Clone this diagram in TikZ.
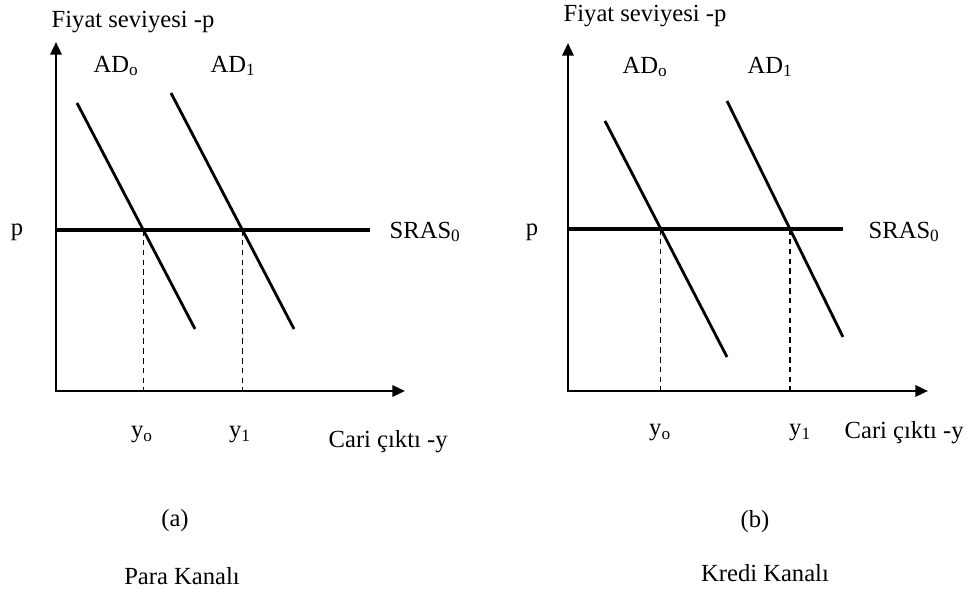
\documentclass[tikz,border=0pt]{standalone}
\usepackage{fontspec}
\setmainfont{Liberation Serif}
\usetikzlibrary{arrows.meta,intersections}

\begin{document}
\begin{tikzpicture}[
  every node/.style={font=\fontsize{17.5}{20}\selectfont, inner sep=1pt},
  axis/.style={line width=1.8pt, {Triangle[length=9pt,width=8pt]}-{Triangle[length=9pt,width=8pt]}},
  adline/.style={line width=2pt},
  srasline/.style={line width=2.7pt},
  guide/.style={line width=0.9pt, dash pattern=on 4pt off 3pt}]
  \useasboundingbox (0,0) rectangle (24.475,14.85);

  % (a) Para Kanali
  \coordinate (Oa) at (1.40,5.075);
  \coordinate (pa) at (1.40,13.80);
  \coordinate (qa) at (10.125,5.075);
  \draw[axis] (pa) -- (Oa) -- (qa);
  \draw[srasline, name path=srasa] (1.40,9.10) -- (9.25,9.10);
  \draw[adline, name path=ad0a] (1.925,12.275) -- (4.875,6.625);
  \draw[adline, name path=ad1a] (4.275,12.525) -- (7.35,6.625);
  \path[name intersections={of=srasa and ad0a, by=e0a}];
  \path[name intersections={of=srasa and ad1a, by=e1a}];
  \draw[guide] (e0a) -- (e0a |- Oa);
  \draw[guide] (e1a) -- (e1a |- Oa);
  \node[anchor=west] (fiyata) at (1.25,14.3) {Fiyat seviyesi -p};
  \node (ad0la) at (2.9,13.2) {AD\textsubscript{o}};
  \node (ad1la) at (5.825,13.2) {AD\textsubscript{1}};
  \node (pla) at (0.425,9.05) {p};
  \node[anchor=west] (srasla) at (9.7,9.05) {SRAS\textsubscript{0}};
  \node (y0a) at (3.55,3.975) {y\textsubscript{o}};
  \node (y1a) at (6.0,3.975) {y\textsubscript{1}};
  \node[anchor=west] (caria) at (8.175,3.8) {Cari çıktı -y};
  \node (capa) at (4.375,1.825) {(a)};
  \node (kanala) at (4.55,0.45) {Para Kanalı};

  % (b) Kredi Kanali
  \coordinate (Ob) at (14.2,5.075);
  \coordinate (pb) at (14.2,13.775);
  \coordinate (qb) at (23.2,5.075);
  \draw[axis] (pb) -- (Ob) -- (qb);
  \draw[srasline, name path=srasb] (14.2,9.125) -- (21.075,9.125);
  \draw[adline, name path=ad0b] (15.125,11.825) -- (18.175,5.925);
  \draw[adline, name path=ad1b] (18.175,12.325) -- (21.075,6.425);
  \path[name intersections={of=srasb and ad0b, by=e0b}];
  \path[name intersections={of=srasb and ad1b, by=e1b}];
  \draw[guide] (e0b) -- (e0b |- Ob);
  \draw[guide] (e1b) -- (e1b |- Ob);
  \node[anchor=west] (fiyatb) at (14.05,14.45) {Fiyat seviyesi -p};
  \node (ad0lb) at (16.125,13.175) {AD\textsubscript{o}};
  \node (ad1lb) at (19.25,13.175) {AD\textsubscript{1}};
  \node (plb) at (13.3,9.05) {p};
  \node[anchor=west] (sraslb) at (21.675,9.05) {SRAS\textsubscript{0}};
  \node (y0b) at (16.5,4.025) {y\textsubscript{o}};
  \node (y1b) at (20.0,4.025) {y\textsubscript{1}};
  \node[anchor=west] (carib) at (21.075,4.025) {Cari çıktı -y};
  \node (capb) at (18.875,1.8) {(b)};
  \node (kanalb) at (19.125,0.525) {Kredi Kanalı};
\end{tikzpicture}
\end{document}
